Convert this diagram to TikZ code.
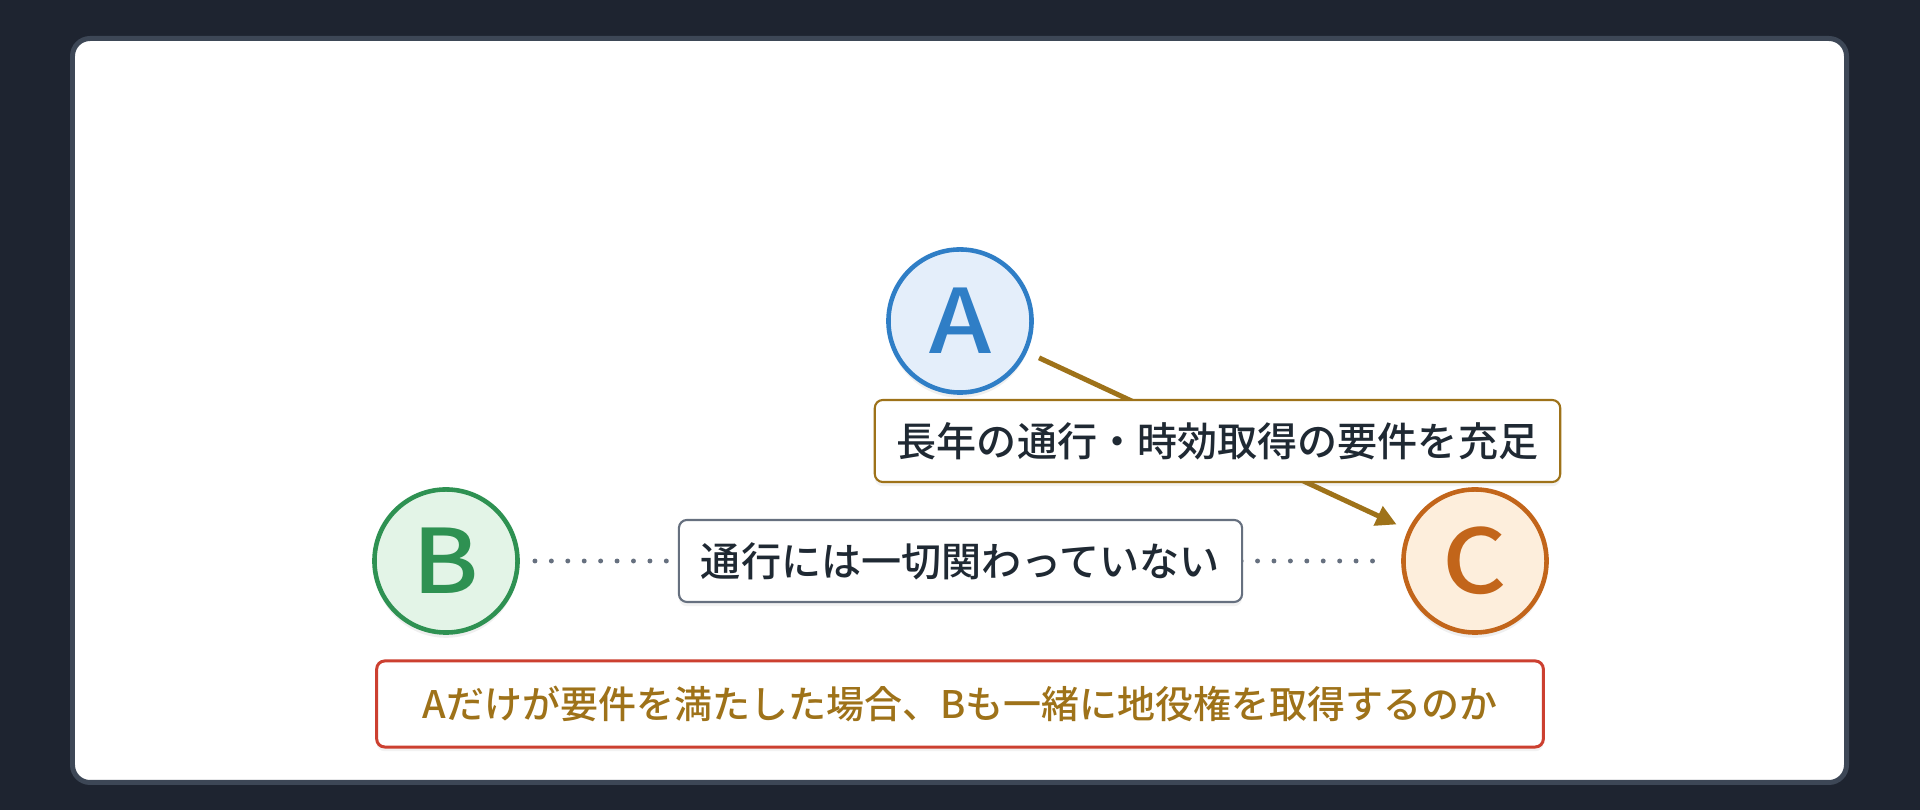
\documentclass[tikz,border=0pt]{standalone}
\usepackage{fontspec}
\setmainfont{Noto Sans CJK JP Medium}
\newfontfamily\partyfont{Noto Sans CJK JP Medium}[FakeStretch=1.12]
\usepackage{xcolor}
\usetikzlibrary{arrows.meta, positioning, shadows}
\definecolor{PageDark}{HTML}{1E2430}
\definecolor{FrameSlate}{HTML}{3D4756}
\definecolor{OwnerBlue}{HTML}{2F7EC6}
\definecolor{OwnerBlueFill}{HTML}{E4EEFA}
\definecolor{OtherGreen}{HTML}{2E9152}
\definecolor{OtherGreenFill}{HTML}{E3F4E7}
\definecolor{LandOrange}{HTML}{C2651A}
\definecolor{LandOrangeFill}{HTML}{FDEEDC}
\definecolor{PathGold}{HTML}{9E7219}
\definecolor{InkDark}{HTML}{1F2933}
\definecolor{MutedGray}{HTML}{66707F}
\definecolor{AlertRed}{HTML}{CC4030}
\tikzset{
    party/.style={circle, draw, line width=1.3pt, minimum size=1.43cm, inner sep=0pt,
                  font=\partyfont\fontsize{25.3}{26}\selectfont,
                  drop shadow={opacity=0.12, shadow xshift=0pt, shadow yshift=-1.5pt}},
    tag/.style={draw, solid, fill=white, rounded corners=2.3pt, line width=0.6pt, inner xsep=0.22cm,
                minimum height=0.82cm, text=InkDark, font=\fontsize{11.4}{13}\selectfont,
                drop shadow={opacity=0.10, shadow xshift=0pt, shadow yshift=-1.2pt}},
    claim/.style={-{Triangle[length=5.8pt, width=5.8pt]}, draw=PathGold, line width=1.42pt,
                  shorten <=3.8pt, shorten >=3.6pt},
    nolink/.style={draw=MutedGray, line width=1.4pt, line cap=round,
                   dash pattern=on 0pt off 4.67pt, shorten <=4.3pt, shorten >=5pt}
}

\begin{document}
\begin{tikzpicture}[x=0.01cm, y=-0.01cm]
    % Page and card
    \fill[PageDark] (0,0) rectangle (1920,810);
    \draw[FrameSlate, line width=1.42pt, fill=white, rounded corners=5pt]
        (72.5,38.5) rectangle (1846.5,782.5);

    % Parties
    \node[party, draw=OwnerBlue, fill=OwnerBlueFill, text=OwnerBlue] (a) at (960,321) {A};
    \node[party, draw=OtherGreen, fill=OtherGreenFill, text=OtherGreen] (b) at (446,561) {B};
    \node[party, draw=LandOrange, fill=LandOrangeFill, text=LandOrange] (c) at (1475,561) {C};

    % Links
    \draw[claim] (a) -- node[tag, draw=PathGold] (usage) {長年の通行・時効取得の要件を充足} (c);
    \draw[nolink] (b) -- node[tag, draw=MutedGray] (idle) {通行には一切関わっていない} (c);

    % Question
    \node[tag, draw=AlertRed, text=PathGold, line width=0.85pt, minimum width=11.66cm,
          minimum height=0.86cm, font=\fontsize{10.8}{13}\selectfont] (question) at (960,704)
        {Aだけが要件を満たした場合、Bも一緒に地役権を取得するのか};
\end{tikzpicture}
\end{document}
